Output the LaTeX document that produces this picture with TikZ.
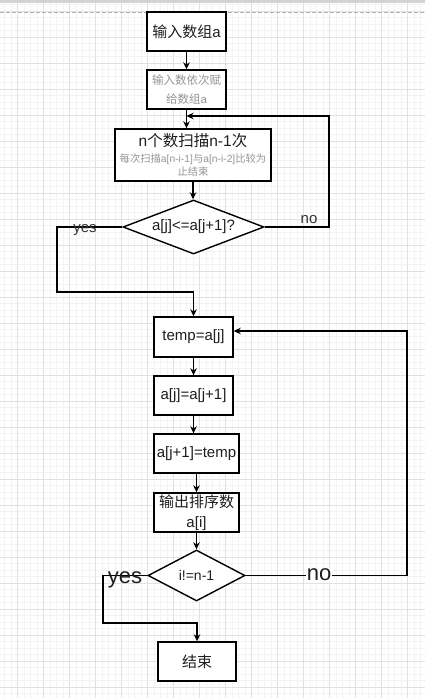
\documentclass[tikz,border=0pt]{standalone}
\usepackage{fontspec}
\setmainfont{Liberation Sans}
\newfontfamily\cjk{Noto Sans CJK SC}
\usetikzlibrary{arrows.meta,shapes.geometric}
\definecolor{gridminor}{HTML}{F3F3F3}
\definecolor{gridmajor}{HTML}{E2E2E2}
\definecolor{subgray}{HTML}{959595}
\definecolor{ink}{HTML}{1E1E1E}
\begin{document}
\begin{tikzpicture}[x=1pt,y=-1pt,
  box/.style={draw=black,line width=1.4pt,fill=white,inner sep=0pt,text=ink,font=\fontsize{15}{17}\selectfont},
  dia/.style={draw=black,line width=1.4pt,fill=white,shape=diamond,inner sep=0pt,aspect=2},
  lbl/.style={inner sep=0pt,text=ink},
  conn/.style={line width=1.4pt,-{Stealth[length=7pt,width=6.5pt,inset=2.2pt]}},
]
\useasboundingbox (0,0) rectangle (425,698);
\fill[white] (0,0) rectangle (425,698);
% grid
\foreach \i in {0,...,65} {\draw[gridminor,line width=0.5pt] (4.3+6.5*\i,3) -- (4.3+6.5*\i,698);}
\foreach \i in {0,...,107} {\draw[gridminor,line width=0.5pt] (0,4.5+6.5*\i) -- (425,4.5+6.5*\i);}
\foreach \i in {0,...,16} {\draw[gridmajor,line width=0.7pt] (17.3+26*\i,3) -- (17.3+26*\i,698);}
\foreach \i in {0,...,27} {\draw[gridmajor,line width=0.7pt] (0,11+26*\i) -- (425,11+26*\i);}
\fill[gridmajor!85!gray] (0,0) rectangle (425,3);
\draw[gray!60,line width=0.8pt,dash pattern=on 4pt off 2pt] (0,12) -- (425,12);

% nodes
\node[box,minimum width=79,minimum height=39] (b1) at (186.5,31.5) {{\cjk 输入数组}a};
\node[box,minimum width=79,minimum height=39,align=center,text=subgray,font=\fontsize{11.5}{19}\selectfont] (b2) at (186.5,89.5) {{\cjk 输入数依次赋}\\{\cjk 给数组}a};
\node[box,minimum width=156,minimum height=52] (b3) at (193,155) {};
\node[lbl,font=\fontsize{15.5}{17}\selectfont] (b3t) at (193,141) {n{\cjk 个数扫描}n-1{\cjk 次}};
\node[lbl,text=subgray,font=\fontsize{10.3}{13.5}\selectfont,align=center] (b3s) at (193,165) {{\cjk 每次扫描}a[n-i-1]{\cjk 与}a[n-i-2]{\cjk 比较为}\\{\cjk 止结束}};
\node[dia,minimum width=141,minimum height=54] (d1) at (193.5,227) {};
\node[lbl,font=\fontsize{15}{17}\selectfont] (d1t) at (193.5,227) {a[j]<=a[j+1]?};

\node[box,minimum width=79,minimum height=40] (t1) at (193.5,337) {temp=a[j]};
\node[box,minimum width=79,minimum height=39] (t2) at (193.5,395.5) {a[j]=a[j+1]};
\node[box,minimum width=85,minimum height=39] (t3) at (196.5,453.5) {a[j+1]=temp};
\node[box,minimum width=85,minimum height=39,align=center,font=\fontsize{15}{20}\selectfont] (t4) at (196.5,512.5) {{\cjk 输出排序数}\\a[i]};
\node[dia,minimum width=97,minimum height=51] (d2) at (196.5,575.5) {};
\node[lbl,font=\fontsize{14}{16}\selectfont] (d2t) at (196.5,575) {i!=n-1};
\node[box,minimum width=78,minimum height=39] (e) at (197,661.5) {{\cjk 结束}};

% helper corners
\coordinate (n1) at (329,116);
\coordinate (y1) at (57,292);
\coordinate (n2) at (407,331);
\coordinate (y2) at (103,623);

% connectors
\draw[conn] (b1.south) -- (b2.north);
\draw[conn] (b2.south) -- (b2.south |- b3.north);
\draw[conn] (b3.south) -- (b3.south |- d1.north);
\draw[conn] (d1.east) -| (n1) -- (b2.south |- n1);
\draw[conn] (d1.west) -| (y1) -| (t1.north);
\draw[conn] (t1.south) -- (t2.north);
\draw[conn] (t2.south) -- (t2.south |- t3.north);
\draw[conn] (t3.south) -- (t4.north);
\draw[conn] (t4.south) -- (d2.north);
\draw[conn] (d2.east) -| (n2) -- (t1.east |- n2);
\draw[conn] (d2.west) -| (y2) -| (e.north);

% labels
\node[lbl,text=black!80,font=\fontsize{15}{17}\selectfont] (lyes1) at (85,230) {yes};
\node[lbl,text=black!80,font=\fontsize{15}{17}\selectfont] (lno1) at (309,220) {no};
\node[lbl,fill=white,inner sep=1pt,font=\fontsize{22}{24}\selectfont] (lno2) at (319,575) {no};
\node[lbl,font=\fontsize{22}{24}\selectfont] (lyes2) at (125,580) {yes};
\end{tikzpicture}
\end{document}
